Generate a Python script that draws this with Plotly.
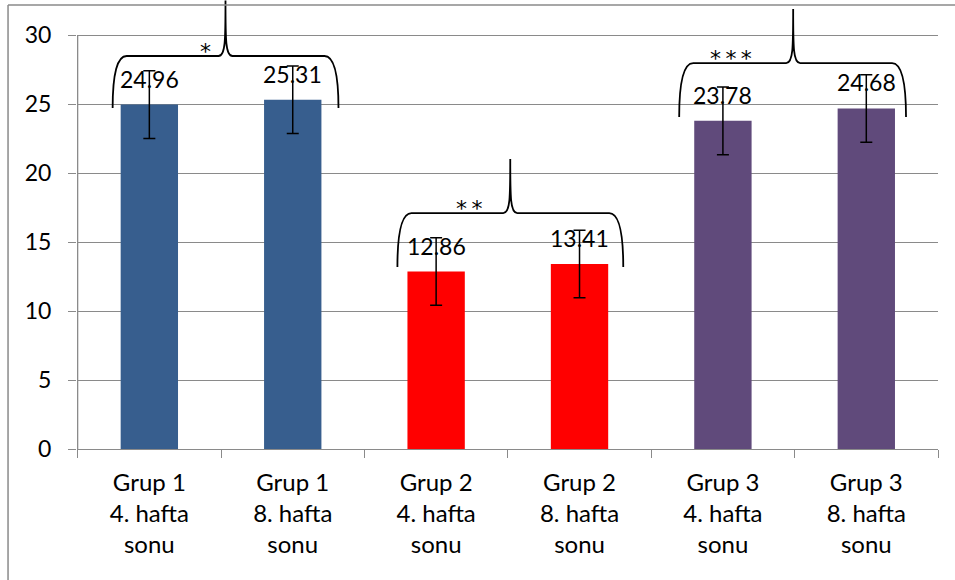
import plotly.graph_objects as go

categories = ["Grup 1<br>4. hafta<br>sonu", "Grup 1<br>8. hafta<br>sonu",
              "Grup 2<br>4. hafta<br>sonu", "Grup 2<br>8. hafta<br>sonu",
              "Grup 3<br>4. hafta<br>sonu", "Grup 3<br>8. hafta<br>sonu"]
values = [24.96, 25.31, 12.86, 13.41, 23.78, 24.68]
errors = [2.45, 2.45, 2.45, 2.45, 2.45, 2.45]
colors = ["#375E8E", "#375E8E", "#FF0000", "#FF0000", "#604A7B", "#604A7B"]
y_ticks = [0, 5, 10, 15, 20, 25, 30]

# significance braces: (left end, cusp, right end, end y, bar y, peak y, label, label x)
braces = [
    (-0.256, 0.531, 1.319, 24.71, 28.48, 32.5, "*", 0.392),
    (1.730, 2.517, 3.305, 13.19, 17.10, 21.01, "*\u2009*", 2.232),
    (3.695, 4.490, 5.277, 24.06, 27.97, 31.88, "*\u2009*\u2009*", 4.057),
]

FONT = "Lato"
GRID = "#8A8A8A"

fig = go.Figure()
fig.add_trace(go.Bar(
    x=categories, y=values, width=0.4,
    marker=dict(color=colors, line=dict(width=0)),
    error_y=dict(type="data", array=errors, visible=True,
                 color="black", thickness=1.5, width=6),
    showlegend=False, hoverinfo="skip",
))

annotations = []
for i, v in enumerate(values):
    annotations.append(dict(x=i, y=v, xref="x", yref="y", text=f"{v:.2f}",
                            showarrow=False, yanchor="bottom", yshift=10,
                            font=dict(family=FONT, size=23, color="black")))

shapes = []
cdx = 0.0976  # corner offset
kdx = 0.0488  # cusp offset
kdy = 1.16
for xl, xc, xr, ye, yh, yp, lab, lx in braces:
    path = (f"M {xl},{ye} Q {xl},{yh} {xl + cdx},{yh} "
            f"L {xc - kdx},{yh} C {xc},{yh} {xc},{yh + kdy} {xc},{yp} "
            f"C {xc},{yh + kdy} {xc},{yh} {xc + kdx},{yh} "
            f"L {xr - cdx},{yh} Q {xr},{yh} {xr},{ye}")
    shapes.append(dict(type="path", path=path, xref="x", yref="y",
                       line=dict(color="black", width=1.8)))
    annotations.append(dict(x=lx, y=yh, xref="x", yref="y", text=lab,
                            showarrow=False, xanchor="center", yanchor="middle",
                            yshift=5,
                            font=dict(family="DejaVu Sans", size=22, color="black")))

# y axis line from 0 to 30
shapes.append(dict(type="line", xref="x", yref="y", x0=-0.5, x1=-0.5,
                   y0=0, y1=30, line=dict(color=GRID, width=1.3)))
# outer chart border (left and top)
shapes.append(dict(type="line", xref="paper", yref="paper", x0=-0.0801, x1=-0.0801,
                   y0=-0.3, y1=0.9889, line=dict(color=GRID, width=1.5)))
shapes.append(dict(type="line", xref="paper", yref="paper", x0=-0.0801, x1=1.03,
                   y0=0.9889, y1=0.9889, line=dict(color=GRID, width=1.5)))

fig.update_layout(
    width=955, height=580,
    margin=dict(l=77, r=17, t=0, b=131, autoexpand=False),
    paper_bgcolor="white", plot_bgcolor="white",
    font=dict(family=FONT, color="black"),
    shapes=shapes, annotations=annotations,
    xaxis=dict(type="category", tickson="boundaries", ticks="outside",
               ticklen=8, tickcolor=GRID, tickwidth=1.3, automargin=False,
               showline=True, linecolor=GRID, linewidth=1.3, ticklabelstandoff=12,
               showgrid=False, tickfont=dict(family=FONT, size=24, color="black")),
    yaxis=dict(range=[0, 32.54], tickvals=y_ticks, ticks="outside", ticklen=8,
               tickcolor=GRID, tickwidth=1.3, showline=False, automargin=False,
               showgrid=True, gridcolor=GRID, gridwidth=1.3, zeroline=False,
               ticklabelstandoff=12,
               tickfont=dict(family=FONT, size=23, color="black")),
)

fig.write_html("out.html", config={"displayModeBar": False},
               post_script="document.body.style.margin='0';")
